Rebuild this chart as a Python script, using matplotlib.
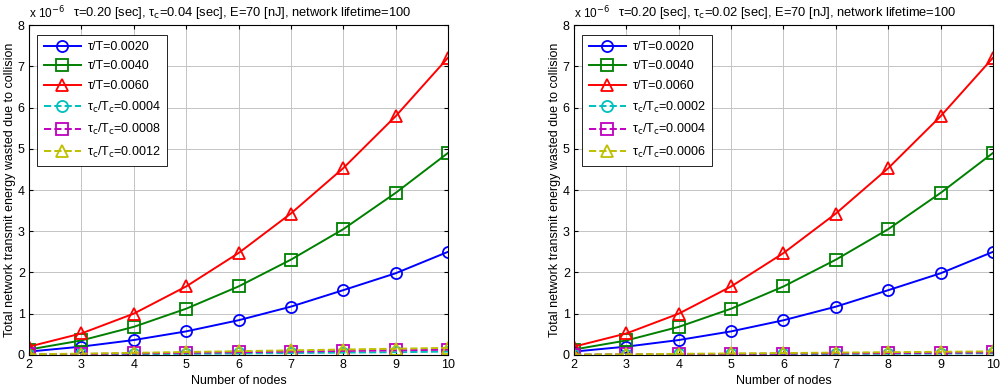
import numpy as np
import matplotlib
matplotlib.use('Agg')
import matplotlib.pyplot as plt

plt.rcParams['font.family'] = ['Liberation Sans', 'DejaVu Sans']
plt.rcParams['font.size'] = 9.0

# Energy values in units of 1e-6
nodes = [2, 3, 4, 5, 6, 7, 8, 9, 10]

# left panel (tau_c = 0.04 sec)
left_tau_002 = [0.08, 0.20, 0.36, 0.57, 0.84, 1.17, 1.57, 1.98, 2.50]
left_tau_004 = [0.13, 0.35, 0.68, 1.12, 1.66, 2.31, 3.05, 3.93, 4.90]
left_tau_006 = [0.20, 0.52, 1.00, 1.66, 2.47, 3.43, 4.53, 5.79, 7.21]
left_tauc_a = [0.005, 0.010, 0.018, 0.025, 0.035, 0.045, 0.055, 0.065, 0.080]
left_tauc_b = [0.010, 0.020, 0.035, 0.050, 0.065, 0.080, 0.095, 0.110, 0.125]
left_tauc_c = [0.015, 0.030, 0.050, 0.070, 0.090, 0.110, 0.130, 0.150, 0.170]

# right panel (tau_c = 0.02 sec)
right_tau_002 = [0.08, 0.20, 0.36, 0.57, 0.84, 1.17, 1.57, 1.98, 2.50]
right_tau_004 = [0.13, 0.35, 0.68, 1.12, 1.66, 2.31, 3.05, 3.93, 4.90]
right_tau_006 = [0.20, 0.52, 1.00, 1.66, 2.47, 3.43, 4.53, 5.79, 7.21]
right_tauc_a = [0.003, 0.006, 0.010, 0.014, 0.018, 0.022, 0.027, 0.032, 0.040]
right_tauc_b = [0.005, 0.010, 0.017, 0.023, 0.030, 0.037, 0.044, 0.052, 0.060]
right_tauc_c = [0.008, 0.015, 0.025, 0.035, 0.045, 0.055, 0.065, 0.075, 0.085]

left_labels = ['0.0004', '0.0008', '0.0012']
right_labels = ['0.0002', '0.0004', '0.0006']

fig = plt.figure(figsize=(10, 3.87), dpi=100)


def draw_panel(ax, solid, dashed, dlabels, tauc):
    styles = [('#0000ff', 'o'), ('#008000', 's'), ('#ff0000', '^')]
    tlabels = ['0.0020', '0.0040', '0.0060']
    for y, (c, m), lab in zip(solid, styles, tlabels):
        ax.plot(nodes, y, color=c, marker=m, ms=8, mfc='none', mec=c, mew=1.3,
                lw=1.4, label='τ/T=' + lab)
    dstyles = [('#00bfbf', 'o'), ('#bf00bf', 's'), ('#bfbf00', '^')]
    for y, (c, m), lab in zip(dashed, dstyles, dlabels):
        ax.plot(nodes, y, color=c, marker=m, ms=8, mfc='none', mec=c, mew=1.3,
                lw=1.4, ls='--', label='τ$_\\mathrm{c}$/T$_\\mathrm{c}$=' + lab)
    ax.set_xlim(2, 10)
    ax.set_ylim(0, 8)
    ax.set_xticks(nodes)
    ax.set_yticks(range(0, 9))
    ax.grid(True, color='#c4c4c4', lw=0.7)
    ax.tick_params(direction='in', top=True, right=True, length=3, pad=3)
    ax.set_xlabel('Number of nodes', labelpad=3)
    ax.set_ylabel('Total network transmit energy wasted due to collision', labelpad=1)
    ax.text(0.51, 1.012, 'τ=0.20 [sec], τ$_\\mathrm{c}$=' + tauc +
            ' [sec], E=70 [nJ], network lifetime=100', transform=ax.transAxes,
            fontsize=9.3, ha='center', va='bottom')
    ax.text(0.0, 1.012, 'x 10$^{-6}$', transform=ax.transAxes, fontsize=8.5,
            ha='left', va='bottom')
    leg = ax.legend(loc='upper left', bbox_to_anchor=(0.005, 0.99), fancybox=False,
                    edgecolor='black', framealpha=1, handlelength=3.0,
                    borderpad=0.5, labelspacing=0.6, handletextpad=0.5)
    leg.get_frame().set_linewidth(0.6)


ax1 = fig.add_axes([0.029, 0.083, 0.419, 0.852])
draw_panel(ax1, [left_tau_002, left_tau_004, left_tau_006],
           [left_tauc_a, left_tauc_b, left_tauc_c], left_labels, '0.04')
ax2 = fig.add_axes([0.574, 0.083, 0.419, 0.852])
draw_panel(ax2, [right_tau_002, right_tau_004, right_tau_006],
           [right_tauc_a, right_tauc_b, right_tauc_c], right_labels, '0.02')

plt.savefig('out.png')
